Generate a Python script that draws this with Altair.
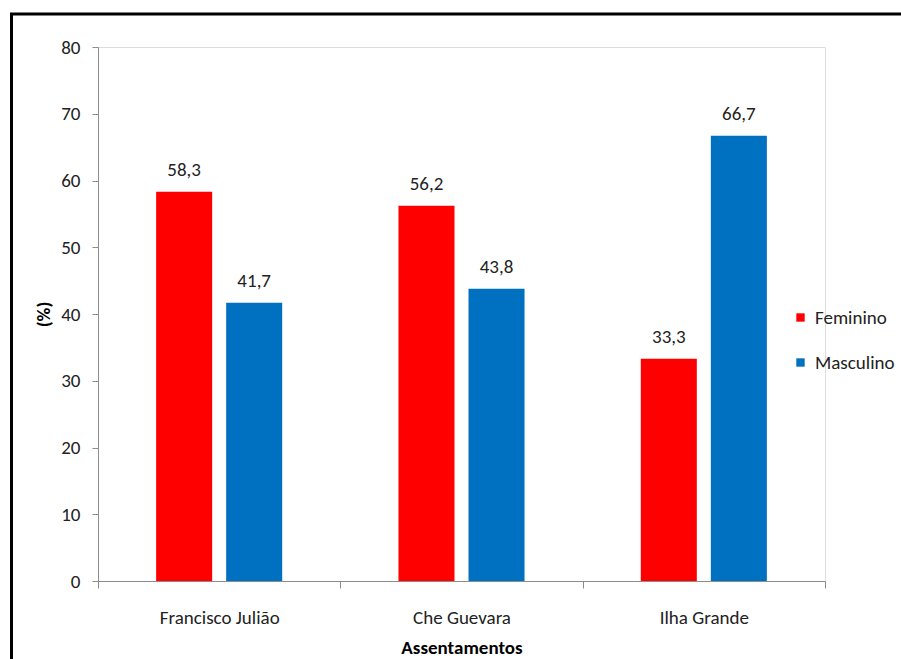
import altair as alt
import pandas as pd

categorias = ["Francisco Julião", "Che Guevara", "Ilha Grande"]
feminino = [58.3, 56.2, 33.3]
masculino = [41.7, 43.8, 66.7]
series = ["Feminino", "Masculino"]
cores = ["#FF0000", "#0070C0"]
y_ticks = [0, 10, 20, 30, 40, 50, 60, 70, 80]

rows = []
for c, f, m in zip(categorias, feminino, masculino):
    rows.append({"Assentamento": c, "Sexo": "Feminino", "v": f})
    rows.append({"Assentamento": c, "Sexo": "Masculino", "v": m})
df = pd.DataFrame(rows)

FONT = "Carlito, Lato, sans-serif"
FS = 19
W, H = 727, 534

x = alt.X("Assentamento:N", sort=categorias,
          scale=alt.Scale(paddingInner=0, paddingOuter=0),
          axis=alt.Axis(title="Assentamentos", labelAngle=0, tickBand="extent",
                        tickSize=7, labelPadding=20, titlePadding=11,
                        domainColor="#8c8c8c", tickColor="#8c8c8c",
                        labelFont=FONT, labelFontSize=FS, labelColor="#222",
                        titleFont=FONT, titleFontSize=FS, titleFontWeight="bold",
                        titleColor="#000"))
xo = alt.XOffset("Sexo:N", sort=series,
                 scale=alt.Scale(paddingInner=0.2, paddingOuter=0.83))
y = alt.Y("v:Q", scale=alt.Scale(domain=[0, 80], nice=False),
          axis=alt.Axis(title="(%)", values=y_ticks, grid=False, tickSize=6,
                        labelPadding=12, titlePadding=7,
                        domainColor="#8c8c8c", tickColor="#8c8c8c",
                        labelFont=FONT, labelFontSize=FS, labelColor="#222",
                        titleFont=FONT, titleFontSize=FS, titleFontWeight="bold",
                        titleColor="#000"))
color = alt.Color("Sexo:N", sort=series,
                  scale=alt.Scale(domain=series, range=cores),
                  legend=alt.Legend(title=None, orient="none", legendX=693, legendY=261,
                                    symbolType="square", symbolSize=70,
                                    symbolStrokeWidth=0, labelFont=FONT,
                                    labelFontSize=FS, labelColor="#222",
                                    labelOffset=5, rowPadding=25))

base = alt.Chart(df)
bars = base.mark_bar(stroke=None).encode(x=x, xOffset=xo, y=y, color=color)
labels = base.mark_text(baseline="alphabetic", dy=-16, font=FONT, fontSize=FS,
                        color="#222").encode(
    x=x, xOffset=xo, y=y,
    text=alt.Text("lab:N")
).transform_calculate(lab="replace(format(datum.v, '.1f'), '.', ',')")

frame = alt.Chart(pd.DataFrame({"a": [0]})).mark_rect(
    fill=None, stroke="#000", strokeWidth=3
).encode(x=alt.value(-86.5), x2=alt.value(812), y=alt.value(-33), y2=alt.value(625))

chart = alt.layer(bars, labels, frame).properties(
    width=W, height=H,
    autosize=alt.AutoSizeParams(type="none"),
    padding={"left": 98, "top": 47, "right": 76, "bottom": 78},
).configure_view(stroke=None).configure(background="white")

chart.save("out.html", embed_options={"renderer": "svg", "actions": False})
